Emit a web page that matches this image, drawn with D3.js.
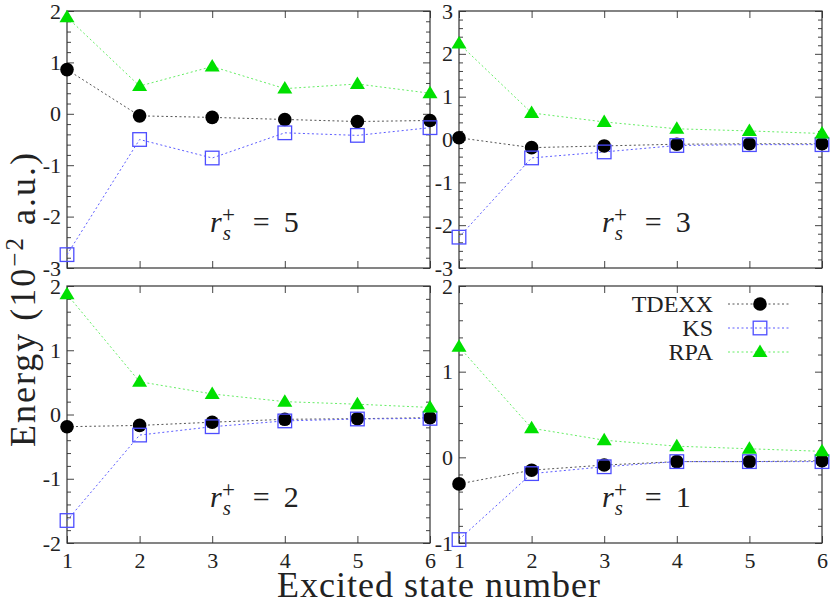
<!DOCTYPE html>
<html>
  <head>
    <meta charset="utf-8">
    <title>Excited state energies</title>
    <style>
      body { margin: 0; background: #fff; }
    </style>
    <script src="https://cdnjs.cloudflare.com/ajax/libs/d3/7.8.5/d3.min.js"></script>
  </head>
  <body>
    <div id="chart"></div>
    <script>
    // excited state index (x axis)
    var states = [1, 2, 3, 4, 5, 6];
    var rsValues = [5, 3, 2, 1];

    // energies in 1e-2 a.u., one array per panel and method
    var tdexx_rs5 = [0.86, -0.04, -0.07, -0.11, -0.15, -0.13];
    var ks_rs5    = [-2.74, -0.50, -0.86, -0.37, -0.42, -0.27];
    var rpa_rs5   = [1.88, 0.54, 0.92, 0.49, 0.58, 0.40];

    var tdexx_rs3 = [0.04, -0.19, -0.15, -0.11, -0.10, -0.10];
    var ks_rs3    = [-2.28, -0.43, -0.29, -0.14, -0.12, -0.12];
    var rpa_rs3   = [2.24, 0.62, 0.41, 0.25, 0.20, 0.14];

    var tdexx_rs2 = [-0.19, -0.17, -0.12, -0.075, -0.065, -0.05];
    var ks_rs2    = [-1.65, -0.32, -0.19, -0.10, -0.07, -0.06];
    var rpa_rs2   = [1.87, 0.51, 0.32, 0.20, 0.16, 0.11];

    var tdexx_rs1 = [-0.31, -0.15, -0.09, -0.05, -0.05, -0.04];
    var ks_rs1    = [-0.96, -0.19, -0.11, -0.05, -0.05, -0.05];
    var rpa_rs1   = [1.29, 0.34, 0.20, 0.13, 0.10, 0.07];

    var yDomains = [[-3, 2], [-3, 3], [-2, 2], [-1, 2]];
    var seriesNames = ['TDEXX', 'KS', 'RPA'];

    var panelData = [
      [tdexx_rs5, ks_rs5, rpa_rs5],
      [tdexx_rs3, ks_rs3, rpa_rs3],
      [tdexx_rs2, ks_rs2, rpa_rs2],
      [tdexx_rs1, ks_rs1, rpa_rs1]
    ];

    var FONT = 'Liberation Serif';
    var W = 830, H = 602;
    var pw = 363, ph = 257;
    var boxes = [
      {x: 67, y: 11}, {x: 459, y: 11},
      {x: 67, y: 286}, {x: 459, y: 286}
    ];

    var styles = [
      {line: '#555', marker: 'circle', fill: '#000', stroke: 'none'},
      {line: '#5c5cff', marker: 'square', fill: 'none', stroke: '#4d4dff'},
      {line: '#66ee66', marker: 'triangle', fill: '#00e000', stroke: 'none'}
    ];

    var svg = d3.select('#chart').append('svg')
      .attr('width', W).attr('height', H);

    function drawMarker(g, kind, st, x, y) {
      if (kind === 'circle') {
        g.append('circle').attr('cx', x).attr('cy', y).attr('r', 6.8)
          .attr('fill', st.fill);
      } else if (kind === 'square') {
        g.append('rect').attr('x', x - 6.8).attr('y', y - 6.8)
          .attr('width', 13.6).attr('height', 13.6)
          .attr('fill', 'none').attr('stroke', st.stroke).attr('stroke-width', 1.3);
      } else {
        g.append('path')
          .attr('d', 'M' + x + ',' + (y - 7.5) + 'L' + (x + 7.5) + ',' + (y + 5) + 'L' + (x - 7.5) + ',' + (y + 5) + 'Z')
          .attr('fill', st.fill);
      }
    }

    boxes.forEach(function(b, p) {
      var g = svg.append('g').attr('transform', 'translate(' + b.x + ',' + b.y + ')');
      var x = d3.scaleLinear().domain([1, 6]).range([0, pw]);
      var y = d3.scaleLinear().domain(yDomains[p]).range([ph, 0]);
      var d0 = yDomains[p][0], d1 = yDomains[p][1];
      var major = d3.range(d0, d1 + 0.001, 1);
      var minor = d3.range(d0, d1 + 0.001, 0.2).filter(function(v) {
        return Math.abs(v - Math.round(v)) > 0.01;
      });

      // minor ticks on both sides
      g.append('g').call(d3.axisLeft(y).tickValues(minor).tickSize(-4).tickFormat(''));
      g.append('g').attr('transform', 'translate(' + pw + ',0)')
        .call(d3.axisRight(y).tickValues(minor).tickSize(-4).tickFormat(''));
      // major ticks
      g.append('g')
        .call(d3.axisLeft(y).tickValues(major).tickSize(-7).tickPadding(6)
          .tickFormat(function(d) { return d < 0 ? '-' + Math.abs(d) : d; }));
      g.append('g').attr('transform', 'translate(' + pw + ',0)')
        .call(d3.axisRight(y).tickValues(major).tickSize(-7).tickFormat(''));
      g.append('g').call(d3.axisTop(x).tickValues(states).tickSize(-7).tickFormat(''));
      g.append('g').attr('transform', 'translate(0,' + ph + ')')
        .call(d3.axisBottom(x).tickValues(states).tickSize(-7).tickPadding(9)
          .tickFormat(p >= 2 ? d3.format('d') : ''));

      g.selectAll('.domain').remove();
      g.selectAll('.tick line').attr('stroke', '#444').attr('stroke-width', 1);
      g.selectAll('.tick text').attr('fill', '#222').attr('font-size', 22);

      g.append('rect').attr('width', pw).attr('height', ph)
        .attr('fill', 'none').attr('stroke', '#333').attr('stroke-width', 1.2);

      // series
      panelData[p].forEach(function(vals, s) {
        var st = styles[s];
        var line = d3.line().x(function(d, i) { return x(states[i]); }).y(function(d) { return y(d); });
        g.append('path').datum(vals).attr('d', line)
          .attr('fill', 'none').attr('stroke', st.line).attr('stroke-width', 1)
          .attr('stroke-dasharray', '2,2.5');
      });
      [0, 1, 2].forEach(function(s) {
        var mg = g.append('g');
        panelData[p][s].forEach(function(v, i) {
          drawMarker(mg, styles[s].marker, styles[s], x(states[i]), y(v));
        });
      });

      // r_s^+ label as one text element
      var lab = g.append('text').attr('x', 143).attr('y', 221)
        .attr('font-size', 30).attr('fill', '#222');
      lab.append('tspan').attr('font-style', 'italic').text('r');
      lab.append('tspan').attr('font-style', 'italic').attr('font-size', 21)
        .attr('dx', 1).attr('dy', 8).text('s');
      lab.append('tspan').attr('font-size', 23).attr('dx', -9).attr('dy', -18).text('+');
      lab.append('tspan').attr('dx', 18).attr('dy', 10).text('=');
      lab.append('tspan').attr('dx', 14).text(rsValues[p]);

      // legend in last panel
      if (p === 3) {
        var legY = [18, 42, 66];
        seriesNames.forEach(function(name, s) {
          var ly2 = legY[s];
          g.append('text').attr('x', 254).attr('y', ly2 + 8).attr('text-anchor', 'end')
            .attr('font-size', 24).attr('fill', '#222').text(name);
          g.append('line').attr('x1', 269).attr('x2', 332).attr('y1', ly2).attr('y2', ly2)
            .attr('stroke', styles[s].line).attr('stroke-width', 1).attr('stroke-dasharray', '2,2.5');
          drawMarker(g, styles[s].marker, styles[s], 301, ly2);
        });
      }
    });

    // axis titles
    svg.append('text').attr('x', 439).attr('y', 597).attr('text-anchor', 'middle')
      .attr('font-size', 36).style('letter-spacing', '1px').attr('fill', '#222')
      .text('Excited state number');

    var yt = svg.append('text').attr('transform', 'translate(35,299) rotate(-90)')
      .attr('text-anchor', 'middle').attr('font-size', 36)
      .style('letter-spacing', '2px').attr('fill', '#222');
    yt.append('tspan').text('Energy (10');
    yt.append('tspan').attr('dy', -12).attr('font-size', 25).text('\u22122');
    yt.append('tspan').attr('dy', 12).text(' a.u.)');

    // one font family, set on every text and tspan
    svg.selectAll('text, tspan').style('font-family', FONT);
    </script>
  </body>
</html>
